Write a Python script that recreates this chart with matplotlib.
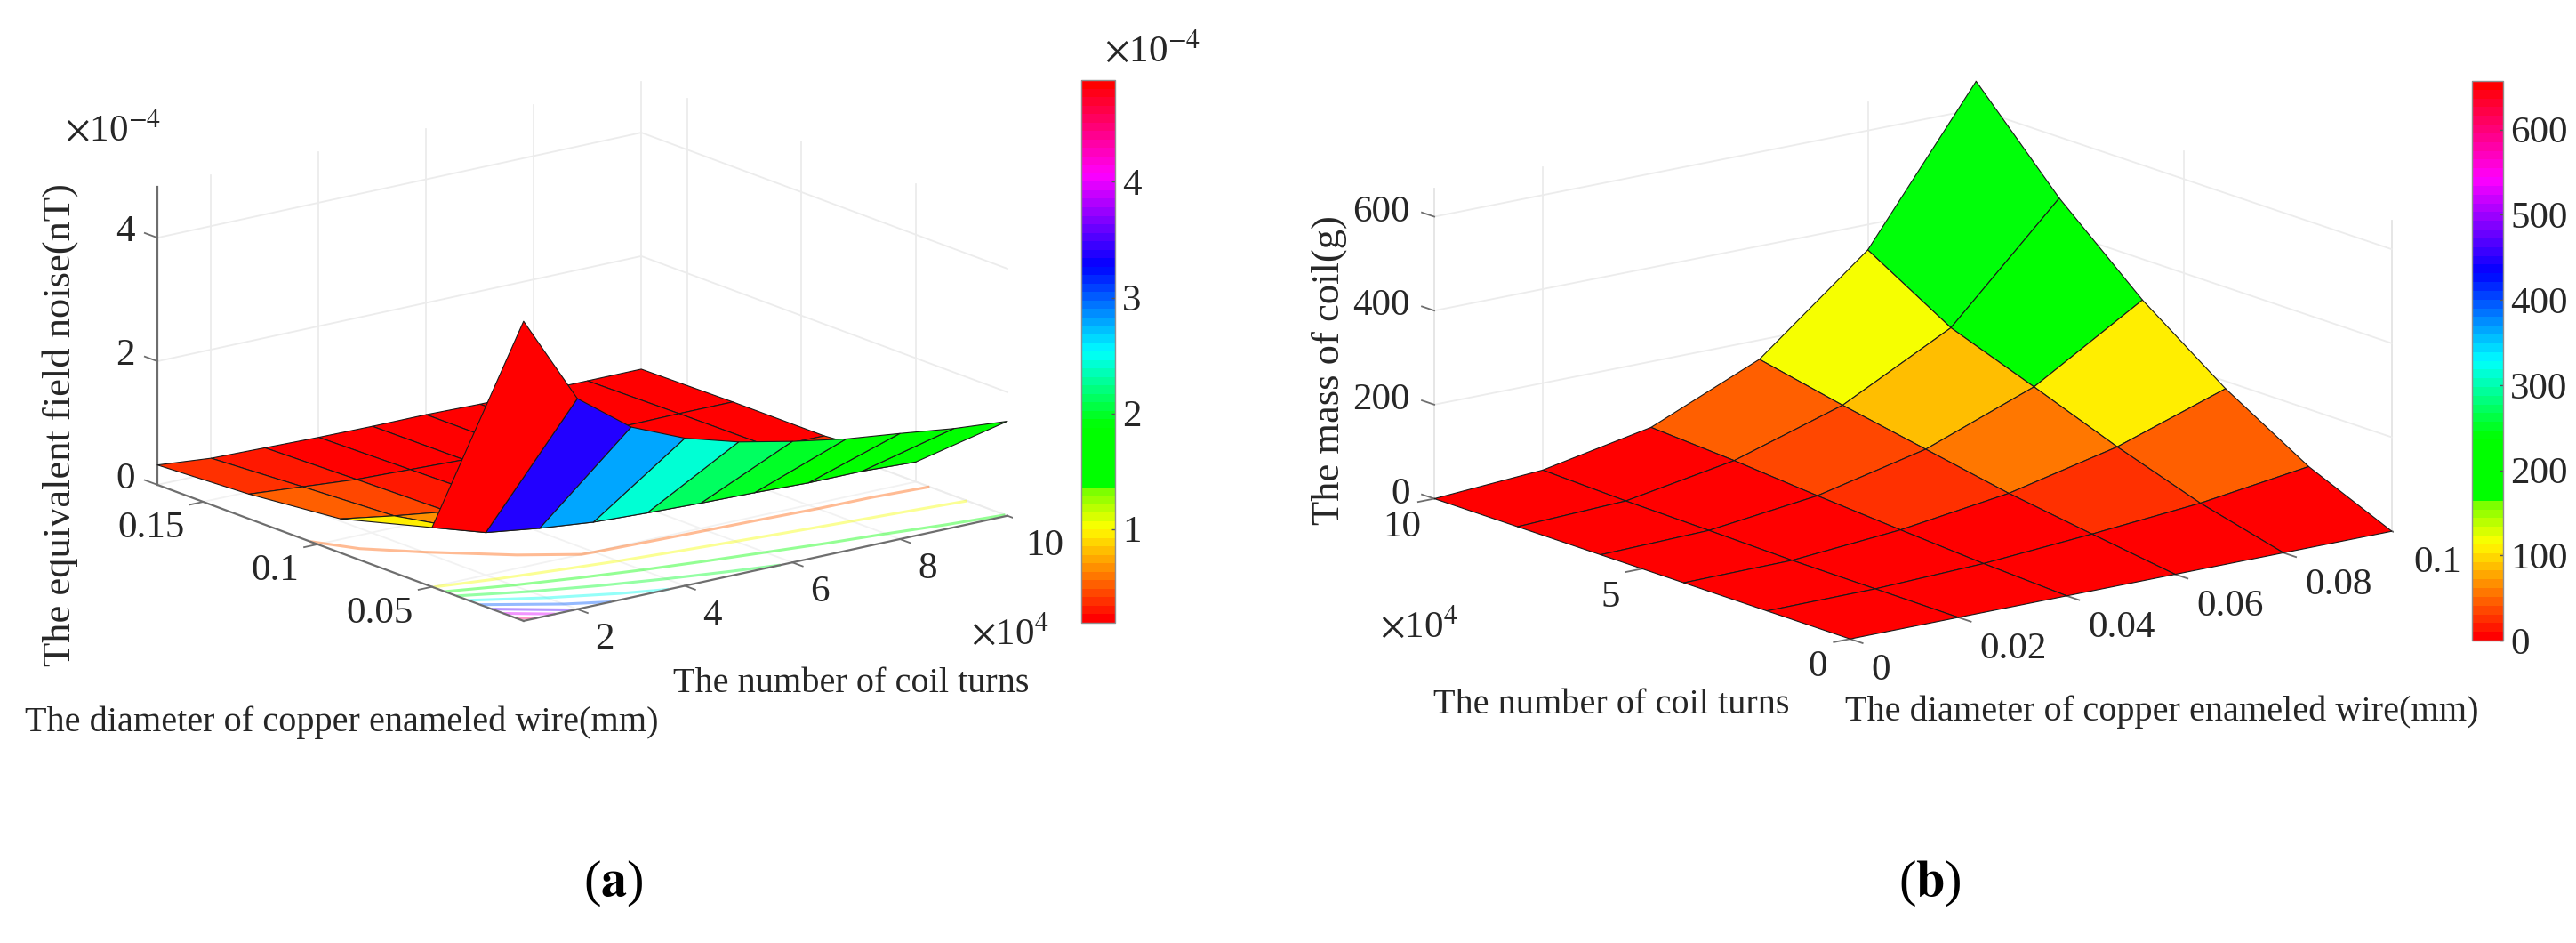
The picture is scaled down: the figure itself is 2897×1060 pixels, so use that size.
import numpy as np
import matplotlib
matplotlib.use('Agg')
import matplotlib.pyplot as plt
from matplotlib.colors import LinearSegmentedColormap, Normalize
from matplotlib.cm import ScalarMappable
from mpl_toolkits.mplot3d import proj3d

W, H = 2897, 1060
plt.rcParams['font.family'] = ['Liberation Serif', 'DejaVu Serif']
plt.rcParams['mathtext.fontset'] = 'stix'

# left chart: noise, rows follow wire diameter, columns follow turns (x1e4)
turns_a = [1, 2, 3, 4, 5, 6, 7, 8, 9, 10]
dia_a = [0.01, 0.05, 0.09, 0.13, 0.17]
noise = [
    [4.85, 3.41, 2.76, 2.39, 2.14, 1.96, 1.81, 1.71, 1.60, 1.53],
    [0.96, 0.69, 0.57, 0.48, 0.44, 0.41, 0.39, 0.36, 0.36, 0.32],
    [0.55, 0.41, 0.29, 0.26, 0.24, 0.22, 0.21, 0.20, 0.20, 0.19],
    [0.40, 0.33, 0.26, 0.23, 0.20, 0.19, 0.19, 0.18, 0.19, 0.19],
    [0.32, 0.24, 0.22, 0.20, 0.19, 0.19, 0.17, 0.17, 0.17, 0.17],
]
contour_levels = [0.5, 1, 1.5, 2, 2.5, 3, 3.5, 4, 4.5]
turn_ticks_a = [2, 4, 6, 8, 10]
dia_ticks_a = [0.05, 0.1, 0.15]
dia_tick_labels_a = ['0.05', '0.1', '0.15']
noise_ticks = [0, 2, 4]
cbar_ticks_a = [1, 2, 3, 4]

# right chart: mass, rows follow turns (x1e4), columns follow wire diameter
dia_b = [0, 0.02, 0.04, 0.06, 0.08, 0.1]
turns_b = [0, 2, 4, 6, 8, 10]
mass = [
    [0, 0, 0, 0, 0, 0],
    [0, 1, 9, 26, 46, 78],
    [0, 2, 21, 53, 106, 184],
    [0, 6, 34, 87, 174, 313],
    [0, 9, 49, 121, 240, 470],
    [0, 15, 60, 159, 346, 659],
]
dia_ticks_b = [0, 0.02, 0.04, 0.06, 0.08, 0.1]
dia_tick_labels_b = ['0', '0.02', '0.04', '0.06', '0.08', '0.1']
turn_ticks_b = [0, 5, 10]
mass_ticks = [0, 200, 400, 600]
cbar_ticks_b = [0, 100, 200, 300, 400, 500, 600]
wall_grid_dia_b = [0.02, 0.08]

GRID = '#ececec'
AXC = '#6e6e6e'
TXT = '#262626'
FS = 29
TICK_FS = 31

cmap = LinearSegmentedColormap.from_list('cmap64', [
    (0.0, '#ff0000'), (0.17, '#ffff00'), (0.245, '#70ff00'), (0.25, '#00ff00'),
    (0.36, '#00ff00'), (0.5, '#00ffff'), (0.66, '#0000ff'), (0.83, '#ff00ff'),
    (1.0, '#ff0000')], N=64)

fig = plt.figure(figsize=(W / 100, H / 100), dpi=100)


def make_axes(center, lengths, elev, azim):
    # axes are square, the box centre sits at 0.95/1.85 of it
    k = 1.8294640721620434 * 25 / 24
    size = 1.85 * np.linalg.norm(lengths) / k
    cx, cy = center
    left = cx - 0.95 / 1.85 * size
    bottom = H - cy - 0.95 / 1.85 * size
    ax = fig.add_axes([left / W, bottom / H, size / W, size / H],
                      projection='3d', computed_zorder=False)
    ax.set_proj_type('ortho')
    ax.view_init(elev=elev, azim=azim)
    ax.set_box_aspect(lengths)
    ax.set_axis_off()
    return ax


def label3d(ax, x, y, z, s, dx, dy, ha='center', va='center', size=TICK_FS):
    x2, y2, _ = proj3d.proj_transform(x, y, z, ax.get_proj())
    ax.annotate(s, (x2, y2), xytext=(dx, -dy), textcoords='offset pixels',
                ha=ha, va=va, fontsize=size, color=TXT, annotation_clip=False)


def line3d(ax, xs, ys, zs, color=GRID, lw=1.3, z=1):
    ax.plot(xs, ys, zs, color=color, lw=lw, zorder=z)


def cbar(box, vmin, vmax, ticks):
    x0, x1, y0, y1 = box
    cax = fig.add_axes([x0 / W, 1 - y1 / H, (x1 - x0) / W, (y1 - y0) / H])
    sm = ScalarMappable(norm=Normalize(vmin, vmax), cmap=cmap)
    cb = fig.colorbar(sm, cax=cax, ticks=ticks)
    cb.ax.tick_params(labelsize=TICK_FS, length=3, width=1, direction='in', pad=6,
                      labelcolor=TXT, color='#555555')
    cb.outline.set_edgecolor('#909090')
    cb.outline.set_linewidth(1)


# ---------- (a)
ax = make_axes((655, 395), (685, 678, 349), 16.5, -127.4)
N_a, D_a = np.meshgrid(turns_a, dia_a)
Z_a = np.array(noise)
nmin, nmax = turns_a[0], turns_a[-1]
dmin, dmax = dia_a[0], dia_a[-1]
ztop_a = 4.82
ax.set_xlim(nmin, nmax, view_margin=0)
ax.set_ylim(dmin, dmax, view_margin=0)
ax.set_zlim(0, ztop_a, view_margin=0)

for t in turn_ticks_a:
    line3d(ax, [t, t], [dmax, dmax], [0, ztop_a])
    line3d(ax, [t, t], [dmin, dmax], [0, 0], color='#f2f2f2')
for d in dia_ticks_a:
    line3d(ax, [nmax, nmax], [d, d], [0, ztop_a])
    line3d(ax, [nmin, nmax], [d, d], [0, 0], color='#f2f2f2')
for v in noise_ticks:
    line3d(ax, [nmin, nmax], [dmax, dmax], [v, v])
    line3d(ax, [nmax, nmax], [dmin, dmax], [v, v])

norm_a = Normalize(0.19, 4.88)
cs = ax.contour(N_a, D_a, Z_a, levels=contour_levels, zdir='z', offset=0,
                cmap=cmap, norm=norm_a, linewidths=2.2, alpha=0.42)
cs.set_zorder(2)

line3d(ax, [nmin, nmin], [dmax, dmax], [0, ztop_a], color=AXC, lw=1.6, z=3)
line3d(ax, [nmin, nmin], [dmin, dmax], [0, 0], color=AXC, lw=1.6, z=3)
line3d(ax, [nmin, nmax], [dmin, dmin], [0, 0], color=AXC, lw=1.6, z=3)

ax.plot_surface(N_a, D_a, Z_a, rstride=1, cstride=1, facecolors=cmap(norm_a(Z_a)),
                shade=False, edgecolor='#1a1a1a', linewidth=0.8, antialiased=True,
                zorder=4)

for v in noise_ticks:
    line3d(ax, [nmin, nmin], [dmax, dmax + 0.0055], [v, v], color=AXC, z=3)
    label3d(ax, nmin, dmax, v, str(v), -25, -6, ha='right')
for d, s in zip(dia_ticks_a, dia_tick_labels_a):
    line3d(ax, [nmin, nmin - 0.25], [d, d], [0, 0], color=AXC, z=3)
    label3d(ax, nmin, d, 0, s, -21, 30, ha='right')
for t in turn_ticks_a:
    line3d(ax, [t, t], [dmin, dmin - 0.0045], [0, 0], color=AXC, z=3)
    label3d(ax, t, dmin, 0, str(t), 20, 34, ha='left')

fig.text(127 / W, 1 - 147 / H, r'$\times\mathregular{10}^{-4}$', fontsize=TICK_FS,
         color=TXT, ha='center', va='center')
fig.text(1136 / W, 1 - 713 / H, r'$\times\mathregular{10}^{4}$', fontsize=TICK_FS,
         color=TXT, ha='center', va='center')
fig.text(1296 / W, 1 - 58 / H, r'$\times\mathregular{10}^{-4}$', fontsize=TICK_FS,
         color=TXT, ha='center', va='center')
fig.text(68 / W, 1 - 478 / H, 'The equivalent field noise(nT)', rotation=90,
         fontsize=32, color=TXT, ha='center', va='center')
fig.text(384 / W, 1 - 812 / H, 'The diameter of copper enameled wire(mm)',
         fontsize=FS, color=TXT, ha='center', va='center')
fig.text(957 / W, 1 - 768 / H, 'The number of coil turns',
         fontsize=FS, color=TXT, ha='center', va='center')
cbar((1216, 1254, 90, 700), 0.19, 4.88, cbar_ticks_a)

# ---------- (b)
bx = make_axes((2151.5, 404.5), (768, 768, 361), 15.0, -127.5)
D_b, N_b = np.meshgrid(dia_b, turns_b)
Z_b = np.array(mass)
ztop_b = 660
bx.set_xlim(dia_b[0], dia_b[-1], view_margin=0)
bx.set_ylim(turns_b[0], turns_b[-1], view_margin=0)
bx.set_zlim(0, ztop_b, view_margin=0)

d1, n1 = dia_b[-1], turns_b[-1]
line3d(bx, [0, 0], [n1, n1], [0, ztop_b], color='#e4e4e4')
line3d(bx, [d1, d1], [0, 0], [0, ztop_b], color='#e4e4e4')
for d in wall_grid_dia_b:
    line3d(bx, [d, d], [n1, n1], [0, ztop_b])
line3d(bx, [d1, d1], [5, 5], [0, ztop_b])
line3d(bx, [d1, d1], [n1, n1], [0, ztop_b])
for v in mass_ticks[1:]:
    line3d(bx, [0, d1], [n1, n1], [v, v])
    line3d(bx, [d1, d1], [0, n1], [v, v])

norm_b = Normalize(0, 657)
bx.plot_surface(D_b, N_b, Z_b, rstride=1, cstride=1, facecolors=cmap(norm_b(Z_b)),
                shade=False, edgecolor='#1a1a1a', linewidth=0.8, antialiased=True,
                zorder=4)

for v in mass_ticks:
    line3d(bx, [0, 0], [n1, n1 + 0.3], [v, v], color=AXC, z=3)
    label3d(bx, 0, n1, v, str(v), -27, -5, ha='right')
for t in turn_ticks_b:
    line3d(bx, [0, -0.003], [t, t], [0, 0], color=AXC, z=3)
    label3d(bx, 0, t, 0, str(t), -36, 32)
for d, s in zip(dia_ticks_b, dia_tick_labels_b):
    line3d(bx, [d, d], [0, -0.3], [0, 0], color=AXC, z=3)
    label3d(bx, d, 0, 0, s, 24, 36, ha='left')

fig.text(1596 / W, 1 - 705 / H, r'$\times\mathregular{10}^{4}$', fontsize=TICK_FS,
         color=TXT, ha='center', va='center')
fig.text(1495 / W, 1 - 416 / H, 'The mass of coil(g)', rotation=90,
         fontsize=32, color=TXT, ha='center', va='center')
fig.text(1812 / W, 1 - 792 / H, 'The number of coil turns',
         fontsize=FS, color=TXT, ha='center', va='center')
fig.text(2431 / W, 1 - 800 / H, 'The diameter of copper enameled wire(mm)',
         fontsize=FS, color=TXT, ha='center', va='center')
cbar((2780, 2815, 91, 720), 0, 657, cbar_ticks_b)

# captions
fig.text(690 / W, 1 - 993 / H, r'($\mathbf{a}$)', fontsize=42, color='black',
         ha='center', va='center')
fig.text(2170 / W, 1 - 993 / H, r'($\mathbf{b}$)', fontsize=42, color='black',
         ha='center', va='center')

fig.savefig('out.png', dpi=100)
